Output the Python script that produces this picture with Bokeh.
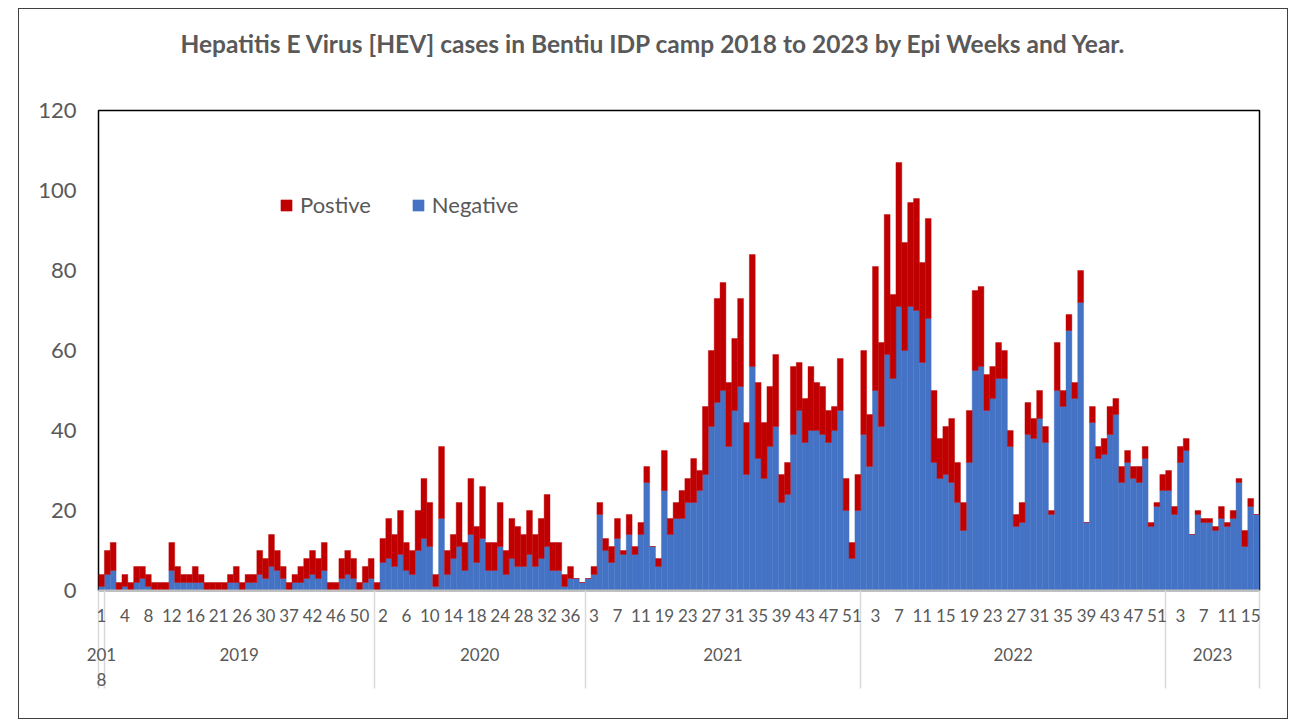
from bokeh.plotting import figure
from bokeh.models import (ColumnDataSource, Range1d, LinearAxis, FixedTicker,
                          Legend, LegendItem, Title)
from bokeh.embed import file_html
from bokeh.resources import INLINE

# ---------------- data ----------------
years = ["2018", "2019", "2020", "2021", "2022", "2023"]

weeks_2018 = [1]
weeks_2019 = [1, 2, 3, 4, 5, 6, 7, 8, 9, 10, 11, 12, 13, 14, 15, 16, 17, 18, 19,
              21, 22, 23, 24, 26, 27, 28, 29, 30, 31, 32, 33, 37, 38, 39, 40,
              42, 43, 44, 45, 46, 47, 48, 49, 50, 51, 52]
weeks_2020 = [1, 2, 3, 4, 5, 6, 7, 8, 9, 10, 11, 12, 13, 14, 15, 16, 17, 18, 19, 20, 21,
              24, 25, 26, 27, 28, 29, 30, 31, 32, 33, 34, 35, 36, 37, 38]
weeks_2021 = [2, 3, 4, 5, 6, 7, 8, 9, 10, 11, 12, 13, 14,
              19, 20, 21, 22, 23, 24, 25, 26, 27, 28, 29, 30, 31, 32, 33, 34, 35, 36,
              37, 38, 39, 40, 41, 42, 43, 44, 45, 46, 47, 48, 49, 50, 51, 52]
weeks_2022 = list(range(1, 53))
weeks_2023 = list(range(1, 17))

negative_2018 = [1]
positive_2018 = [3]

negative_2019 = [4, 5, 0, 1, 0, 2, 3, 1, 0, 0, 0, 5, 2, 2, 2, 2, 2, 0, 0, 0, 0, 2, 2, 0,
                 2, 2, 4, 3, 6, 5, 3, 0, 2, 2, 3, 4, 3, 5, 0, 0, 3, 4, 3, 0, 2, 3]
positive_2019 = [6, 7, 2, 3, 2, 4, 3, 3, 2, 2, 2, 7, 4, 2, 2, 4, 2, 2, 2, 2, 2, 2, 4, 2,
                 2, 2, 6, 5, 8, 5, 3, 2, 2, 4, 5, 6, 5, 7, 2, 2, 5, 6, 5, 2, 4, 5]

negative_2020 = [0, 7, 8, 6, 9, 5, 4, 10, 13, 11, 1, 18, 4, 8, 11, 5, 14, 7, 13, 5, 5,
                 11, 4, 8, 6, 6, 9, 6, 8, 11, 5, 5, 1, 3, 3, 2]
positive_2020 = [2, 6, 10, 8, 11, 7, 6, 10, 15, 11, 3, 18, 6, 6, 11, 7, 14, 9, 13, 7, 7,
                 11, 6, 10, 10, 8, 11, 8, 10, 13, 7, 7, 3, 3, 0, 0]

negative_2021 = [3, 4, 19, 10, 7, 13, 9, 14, 9, 14, 27, 11, 6, 25, 14, 18, 18, 22, 22,
                 25, 29, 41, 47, 50, 36, 45, 51, 29, 56, 33, 28, 36, 41, 22, 24, 39, 45,
                 37, 40, 40, 39, 37, 40, 45, 20, 8, 20]
positive_2021 = [0, 2, 3, 3, 4, 5, 1, 5, 2, 3, 4, 0, 2, 10, 4, 4, 7, 6, 11, 5, 17, 19,
                 26, 27, 16, 18, 22, 13, 28, 19, 14, 15, 18, 7, 8, 17, 12, 11, 16, 12,
                 12, 8, 6, 13, 8, 4, 9]

negative_2022 = [39, 31, 50, 41, 59, 53, 71, 60, 71, 70, 57, 68, 32, 28, 29, 27, 22, 15,
                 32, 55, 56, 45, 48, 53, 53, 36, 16, 17, 39, 38, 43, 37, 19, 50, 46, 65,
                 48, 72, 17, 42, 33, 34, 39, 44, 27, 32, 28, 27, 33, 16, 21, 25]
positive_2022 = [21, 13, 31, 21, 35, 21, 36, 27, 26, 28, 25, 25, 18, 10, 12, 16, 10, 7,
                 13, 20, 20, 9, 8, 9, 7, 4, 3, 5, 8, 5, 7, 4, 1, 12, 4, 4, 4, 8, 0, 4,
                 3, 4, 7, 4, 4, 3, 3, 4, 3, 1, 1, 4]

negative_2023 = [25, 19, 32, 35, 14, 19, 17, 17, 15, 18, 16, 18, 27, 11, 21, 19]
positive_2023 = [5, 2, 4, 3, 0, 1, 1, 1, 1, 3, 1, 2, 1, 4, 2, 0]

y_ticks = [0, 20, 40, 60, 80, 100, 120]
year_labels = ["201\n8", "2019", "2020", "2021", "2022", "2023"]

title_text = "Hepatitis E Virus [HEV] cases in Bentiu IDP camp 2018 to 2023 by Epi Weeks and Year."

BLUE = "#4472C4"
RED = "#C00000"
TXT = "#595959"
FONT = "Lato"

# ---------------- assemble ----------------
week_groups = [weeks_2018, weeks_2019, weeks_2020, weeks_2021, weeks_2022, weeks_2023]
neg_groups = [negative_2018, negative_2019, negative_2020, negative_2021, negative_2022, negative_2023]
pos_groups = [positive_2018, positive_2019, positive_2020, positive_2021, positive_2022, positive_2023]

weeks, negative, positive = [], [], []
for w, n, q in zip(week_groups, neg_groups, pos_groups):
    weeks += w
    negative += n
    positive += q
N = len(weeks)
xs = list(range(N))

src = ColumnDataSource(data=dict(x=xs, neg=negative, pos=positive))

# group boundaries / centres
bounds = [-0.5]
for w in week_groups:
    bounds.append(bounds[-1] + len(w))
centers = [(bounds[i] + bounds[i + 1]) / 2 for i in range(len(week_groups))]
centers[0] = 0.0

p = figure(width=1270, height=711,
           x_range=Range1d(-0.5, N - 0.5), y_range=Range1d(0, 120),
           x_axis_location=None, y_axis_location=None,
           toolbar_location=None, output_backend="svg",
           min_border_left=79, min_border_right=30,
           min_border_top=101, min_border_bottom=130,
           outline_line_color="black", outline_line_width=1.5,
           background_fill_color="white", border_fill_color="white")
p.margin = (8, 0, 0, 18)
p.styles = {"border": "1px solid #404040"}
p.grid.visible = False

rs = p.vbar_stack(["neg", "pos"], x="x", width=1.0, source=src,
                  fill_color=[BLUE, RED], line_color=[BLUE, RED], line_width=0.4)

# invisible spacer between frame and title (axis with one blank, hidden tick)
spacer = LinearAxis(ticker=FixedTicker(ticks=[N // 2], minor_ticks=[]),
                    major_label_overrides={N // 2: " "},
                    axis_line_color=None, major_tick_line_color=None,
                    minor_tick_line_color=None, major_tick_in=0, major_tick_out=44,
                    minor_tick_out=0, major_label_standoff=5,
                    major_label_text_font_size="1px")
p.add_layout(spacer, "above")

# title
title = Title(text=title_text, align="left", offset=82, standoff=0,
              text_font=FONT, text_font_size="24.5px", text_font_style="bold",
              text_color=TXT)
p.add_layout(title, "above")

# y axis
ay = LinearAxis(ticker=FixedTicker(ticks=y_ticks, minor_ticks=[]),
                axis_line_color=None, major_tick_line_color=None,
                minor_tick_line_color=None, major_label_standoff=16,
                major_label_text_font=FONT, major_label_text_font_size="22px",
                major_label_text_color=TXT)
p.add_layout(ay, "left")

# week axis (minor ticks act as the long group separators)
tick_idx = xs[::4]
axA = LinearAxis(ticker=FixedTicker(ticks=tick_idx, minor_ticks=bounds),
                 major_label_overrides={i: str(weeks[i]) for i in tick_idx},
                 axis_line_color="#BFBFBF", axis_line_width=2,
                 major_tick_line_color=None,
                 minor_tick_line_color="#D9D9D9", minor_tick_line_width=1.5,
                 minor_tick_in=0, minor_tick_out=98,
                 major_label_standoff=-80,
                 major_label_text_font=FONT, major_label_text_font_size="17px",
                 major_label_text_color=TXT)
p.add_layout(axA, "below")

# year axis
axB = LinearAxis(ticker=FixedTicker(ticks=centers, minor_ticks=[]),
                 major_label_overrides={float(c): lab for c, lab in zip(centers, year_labels)},
                 axis_line_color=None, major_tick_line_color=None,
                 minor_tick_line_color=None, major_tick_out=0, major_label_standoff=19,
                 major_label_text_font=FONT, major_label_text_font_size="17px",
                 major_label_text_color=TXT)
p.add_layout(axB, "below")

legend = Legend(items=[LegendItem(label="Postive", renderers=[rs[1]]),
                       LegendItem(label="Negative", renderers=[rs[0]])],
                orientation="horizontal", location=(181, 372),
                glyph_width=14, glyph_height=14, label_standoff=7, spacing=40,
                padding=0, margin=0, border_line_color=None,
                background_fill_alpha=0,
                label_text_font=FONT, label_text_font_size="22px",
                label_text_color=TXT)
p.add_layout(legend, "center")

open("out.html", "w").write(file_html(p, INLINE))
